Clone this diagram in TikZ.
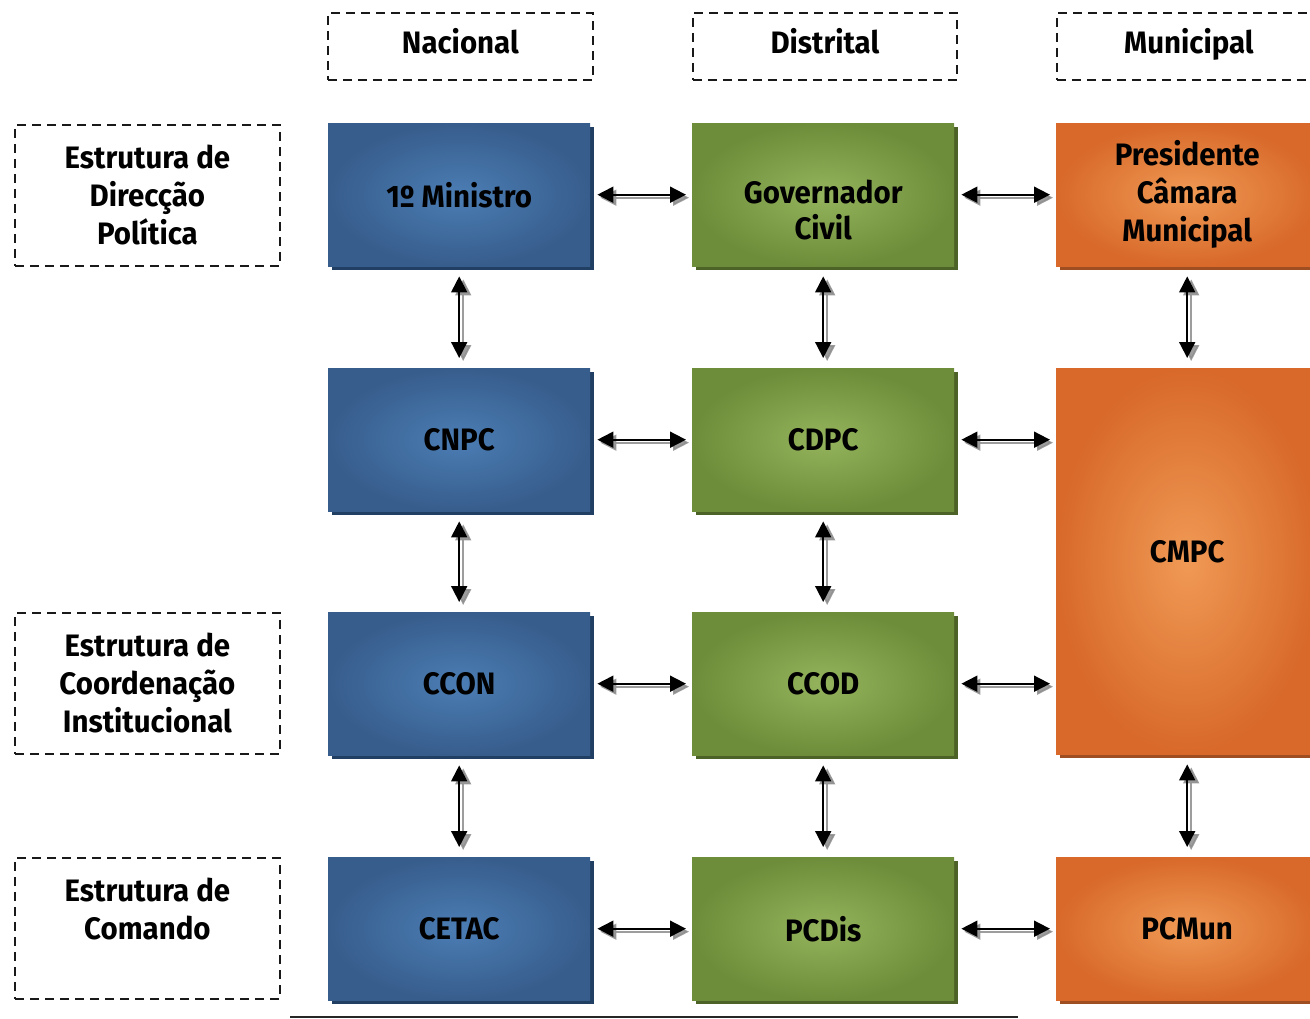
\documentclass[tikz,border=0pt]{standalone}
\usepackage{fontspec}
\setmainfont{Fira Sans}[FakeStretch=0.95]
\usetikzlibrary{arrows.meta,shadows}
\definecolor{bO}{HTML}{375D8C}
\definecolor{bI}{HTML}{4B7DB4}
\definecolor{bS}{HTML}{213F62}
\definecolor{gO}{HTML}{6E8D3A}
\definecolor{gI}{HTML}{94B35C}
\definecolor{gS}{HTML}{4C6226}
\definecolor{oO}{HTML}{D8692A}
\definecolor{oI}{HTML}{F09A55}
\definecolor{oS}{HTML}{9E4E20}
\begin{document}
\begin{tikzpicture}[x=1pt,y=-1pt,
  lbl/.style={font=\fontsize{31}{38}\selectfont\bfseries, align=center, text=black},
  dbox/.style={lbl, draw=black!90, dashed, dash pattern=on 9pt off 6pt, line width=1.8pt, anchor=north west, inner sep=0pt},
  colbox/.style={lbl, anchor=north west, inner sep=0pt, minimum width=262pt, minimum height=143pt},
  bluebox/.style={colbox, outer color=bO, inner color=bI, drop shadow={shadow xshift=4pt, shadow yshift=-4pt, fill=bS, opacity=1}},
  greenbox/.style={colbox, outer color=gO, inner color=gI, drop shadow={shadow xshift=4pt, shadow yshift=-4pt, fill=gS, opacity=1}},
  orangebox/.style={colbox, outer color=oO, inner color=oI, drop shadow={shadow xshift=4pt, shadow yshift=-4pt, fill=oS, opacity=1}},
  arr/.style={line width=1.8pt, {Triangle[width=16pt,length=16pt]}-{Triangle[width=16pt,length=16pt]}},
  arrsh/.style={arr, black!45, opacity=0.85},
]
\useasboundingbox (0,0) rectangle (1310,1019);
\begin{scope}
\clip (0,0) rectangle (1310,1019);
% headers
\node[dbox, minimum width=265pt, minimum height=67pt, text depth=11pt] (hN) at (327,12) {Nacional};
\node[dbox, minimum width=264pt, minimum height=67pt, text depth=11pt] (hD) at (692,12) {Distrital};
\node[dbox, minimum width=264pt, minimum height=67pt, text depth=11pt] (hM) at (1056,12) {Municipal};
% left labels
\node[dbox, minimum width=265pt, minimum height=141pt] (l1) at (14,124) {Estrutura de\\Direcção\\Política};
\node[dbox, minimum width=265pt, minimum height=141pt] (l2) at (14,612) {Estrutura de\\Coordenação\\Institucional};
\node[dbox, minimum width=265pt, minimum height=141pt, text depth=40pt] (l3) at (14,857) {Estrutura de\\Comando};
% blue column
\node[bluebox] (n1) at (328,123) {1º Ministro};
\node[bluebox] (n2) at (328,368) {CNPC};
\node[bluebox] (n3) at (328,612) {CCON};
\node[bluebox] (n4) at (328,857) {CETAC};
% green column
\node[greenbox] (d1) at (692,123) {\mbox{}\\[16pt]Governador\\[-2pt]Civil};
\node[greenbox] (d2) at (692,368) {CDPC};
\node[greenbox] (d3) at (692,612) {CCOD};
\node[greenbox] (d4) at (692,857) {PCDis};
% orange column
\node[orangebox] (m1) at (1056,123) {Presidente\\Câmara\\Municipal};
\node[orangebox, minimum height=386pt, text depth=20pt] (m2) at (1056,368) {CMPC};
\node[orangebox] (m4) at (1056,857) {PCMun};
\end{scope}
% arrows
\foreach \a/\b in {n1/d1,n2/d2,n3/d3,n4/d4,d1/m1,d4/m4}{
  \draw[arrsh, shorten <=10pt, shorten >=3pt, transform canvas={yshift=-3pt}] (\a) -- (\b);
  \draw[arr, shorten <=7pt, shorten >=6pt] (\a) -- (\b);
}
\foreach \a in {d2,d3}{
  \draw[arrsh, shorten <=10pt, shorten >=3pt, transform canvas={yshift=-3pt}] (\a.east) -- (\a.east -| m2.west);
  \draw[arr, shorten <=7pt, shorten >=6pt] (\a.east) -- (\a.east -| m2.west);
}
\foreach \a/\b in {n1/n2,n2/n3,n3/n4,d1/d2,d2/d3,d3/d4,m1/m2,m2/m4}{
  \draw[arrsh, shorten <=13pt, shorten >=7pt, transform canvas={xshift=4pt}] (\a) -- (\b);
  \draw[arr, shorten <=10pt, shorten >=10pt] (\a) -- (\b);
}
% bottom rule
\draw[line width=2pt, black!85] (290,1017) -- (1018,1017);
\end{tikzpicture}
\end{document}
